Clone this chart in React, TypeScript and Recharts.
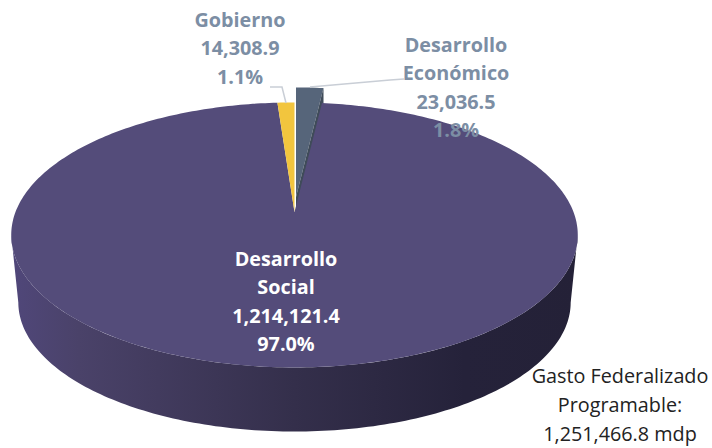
import { PieChart, Pie } from "recharts";

const categories = ["Desarrollo Económico", "Desarrollo Social", "Gobierno"];
const values = [23036.5, 1214121.4, 14308.9];
const percents = ["1.8%", "97.0%", "1.1%"];
const colors = ["#56657a", "#544c7a", "#f2c53e"];
const noteLines = ["Gasto Federalizado", "Programable:", "1,251,466.8 mdp"];

const data = categories.map((name, i) => ({ name, value: values[i], fill: colors[i] }));

// label placement, one entry per category
const labelX = [456, 286, 240];
const labelY = [52, 266, 27];
const labelColors = ["#7c8ea4", "#ffffff", "#7c8ea4"];

const FONT = "'Open Sans', sans-serif";
const RAD = Math.PI / 180;

// perspective of the tilted disc
const TILT = 129 / 280; // vertical squash
const PERSP = 0.173; // far side shrinks
const DEPTH = 68;
const BOTTOM_SCALE = 0.975;
const EXPLODE_X = 1.5;
const EXPLODE_Y = 15;

function project(cx: number, cy: number, r: number, deg: number) {
  const s = Math.sin(deg * RAD);
  const c = Math.cos(deg * RAD);
  const d = 1 + PERSP * s;
  return [cx + (r * c) / d, cy - (r * TILT * s) / d];
}

function arcPoints(cx: number, cy: number, r: number, from: number, to: number) {
  const steps = Math.max(2, Math.ceil(Math.abs(to - from)));
  const pts: number[][] = [];
  for (let i = 0; i <= steps; i++) {
    pts.push(project(cx, cy, r, from + ((to - from) * i) / steps));
  }
  return pts;
}

function toPath(pts: number[][]) {
  return "M" + pts.map((p) => p[0].toFixed(2) + "," + p[1].toFixed(2)).join("L") + "Z";
}

function SliceShape(props: any) {
  const { cx, cy, outerRadius: r, startAngle, endAngle, fill, name } = props;
  const idx = categories.indexOf(name ?? props.payload?.name);

  if (idx === 0) {
    // pulled out slice, sits behind the big one
    const ox = cx + EXPLODE_X;
    const oy = cy - EXPLODE_Y;
    const rim = arcPoints(ox, oy, r, startAngle, endAngle);
    const last = rim[rim.length - 1];
    const inner = project(cx, cy, r, endAngle);
    return (
      <g>
        <path d={toPath([[ox, oy], ...rim])} fill={fill} />
        <path d={toPath([[ox, oy], last, [inner[0] + EXPLODE_X, inner[1]], [ox, cy]])} fill="#3f4b59" />
      </g>
    );
  }

  const face = toPath([[cx, cy], ...arcPoints(cx, cy, r, startAngle, endAngle)]);
  if (idx === 1) {
    // side wall runs between the widest points of the disc
    const topRim = arcPoints(cx, cy, r, 190, 350);
    const bottomRim = arcPoints(cx, cy + DEPTH, r * BOTTOM_SCALE, 350, 190);
    return (
      <g>
        <defs>
          <linearGradient id="wall" x1="0" y1="0" x2="1" y2="0">
            <stop offset="0" stopColor="#50477a" />
            <stop offset="0.12" stopColor="#4a4269" />
            <stop offset="0.5" stopColor="#342f4b" />
            <stop offset="0.8" stopColor="#25223a" />
            <stop offset="1" stopColor="#242137" />
          </linearGradient>
        </defs>
        <path d={toPath([...topRim, ...bottomRim])} fill="url(#wall)" />
        <path d={face} fill={fill} />
      </g>
    );
  }
  return <path d={face} fill={fill} />;
}

function SliceLabel(props: any) {
  const idx = categories.indexOf(props.name ?? props.payload?.name);
  const lines = [
    ...categories[idx].split(" "),
    values[idx].toLocaleString("en-US", { minimumFractionDigits: 1 }),
    percents[idx],
  ];
  return (
    <g>
      {idx === 0 && <polyline points="310,87 390,80 404,79" fill="none" stroke="#c9ced6" strokeWidth={1.5} />}
      {idx === 2 && <polyline points="270,87 282,87 286,103" fill="none" stroke="#c9ced6" strokeWidth={1.5} />}
      <text
        x={labelX[idx]}
        y={labelY[idx]}
        textAnchor="middle"
        fontFamily={FONT}
        fontWeight={700}
        fontSize={19.8}
        fill={labelColors[idx]}
      >
        {lines.map((line, i) => (
          <tspan key={i} x={labelX[idx]} dy={i === 0 ? 0 : 28.3}>
            {line}
          </tspan>
        ))}
      </text>
    </g>
  );
}

export default function App() {
  return (
    <div style={{ position: "absolute", left: 0, top: 0, width: 712, height: 448, background: "#fff" }}>
      <PieChart width={712} height={448} margin={{ top: 0, right: 0, bottom: 0, left: 0 }}>
        <Pie
          data={data}
          dataKey="value"
          nameKey="name"
          cx={294.5}
          cy={212}
          outerRadius={279}
          startAngle={90}
          endAngle={-270}
          stroke="none"
          isAnimationActive={false}
          shape={SliceShape}
          label={SliceLabel}
          labelLine={false}
        />
      </PieChart>
      <div
        style={{
          position: "absolute",
          left: 510,
          top: 361,
          width: 220,
          textAlign: "center",
          fontFamily: FONT,
          fontSize: 19.8,
          lineHeight: "29px",
          color: "#222",
        }}
      >
        {noteLines.map((line) => (
          <div key={line}>{line}</div>
        ))}
      </div>
    </div>
  );
}
